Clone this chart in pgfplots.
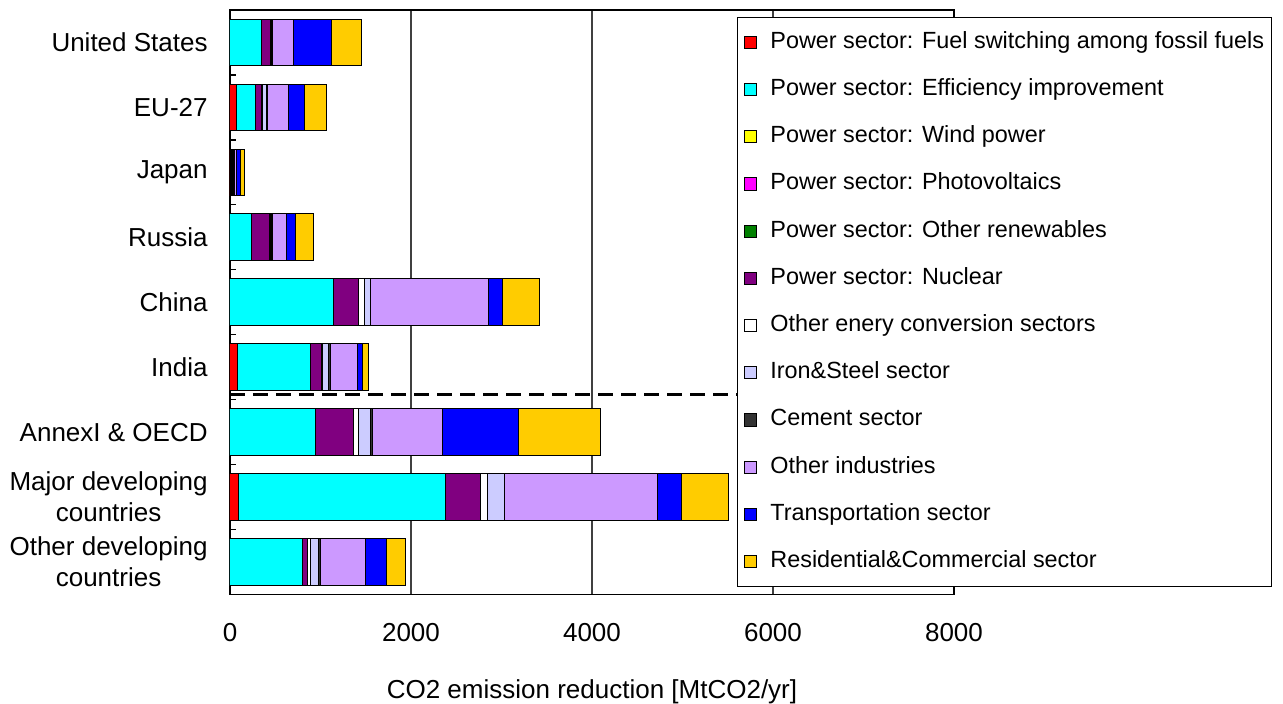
\documentclass[border=0pt]{standalone}
\usepackage{fontspec}
\setmainfont{Liberation Sans}
\usepackage{pgfplots}
\usepackage{pgfplotstable}
\pgfplotsset{compat=1.18}
\definecolor{cFuel}{HTML}{FF0000}
\definecolor{cEff}{HTML}{00FFFF}
\definecolor{cWind}{HTML}{FFFF00}
\definecolor{cPV}{HTML}{FF00FF}
\definecolor{cRen}{HTML}{008000}
\definecolor{cNuc}{HTML}{800080}
\definecolor{cConv}{HTML}{FFFFFF}
\definecolor{cIron}{HTML}{CCCCFF}
\definecolor{cCem}{HTML}{333333}
\definecolor{cOind}{HTML}{CC99FF}
\definecolor{cTrans}{HTML}{0000FF}
\definecolor{cRes}{HTML}{FFCC00}
\newcommand{\catfont}{\fontsize{13bp}{15.5bp}\selectfont}
\newcommand{\legfont}{\fontsize{11.7bp}{14bp}\selectfont}

% rows: US, EU-27, Japan, Russia, China, India, AnnexI&OECD, Major dev., Other dev.
\pgfplotstableread{
y red  cyan wind pv ren nuc conv iron cem oind trans res
0 0    350  0    0  0   95  10   12   5   235  420   324
1 75   210  0    0  0   60  15   48   5   230  180   240
2 5    10   0    0  0   15  5    8    10  22   42    45
3 0    240  0    0  0   195 10   15   10  155  103   192
4 0    1146 0    0  0   269 66   66   5   1306 155   405
5 81   807  0    0  0   125 5    72   25  298  52    66
6 0    945  0    0  0   419 53   130  23  781  842   903
7 91   2290 0    0  0   389 80   183  5   1691 259   518
8 0    800  0    0  0   57  27   95   23  495  229   210
}\data

\begin{document}
\begin{tikzpicture}
\useasboundingbox (-115bp,-54.7bp) rectangle (526.5bp,297.3bp);
\begin{axis}[
  at={(0,0)}, anchor=south west,
  scale only axis, width=362bp, height=292.3bp,
  xbar stacked, bar width=0.72,
  xmin=0, xmax=8000, ymin=-0.5, ymax=8.5, y dir=reverse,
  axis line style={black, line width=0.8bp},
  xtick={0,2000,4000,6000,8000},
  xticklabels={0,2000,4000,6000,8000},
  major x tick style={draw=none},
  xmajorgrids, grid style={draw=black!75, line width=0.6bp},
  xticklabel style={font=\catfont, inner sep=0pt, anchor=north, yshift=-14.1bp},
  ytick={0,...,8},
  yticklabels={United States, EU-27, Japan, Russia, China, India,
    AnnexI \& OECD, Major developing\\countries, Other developing\\countries},
  major y tick style={draw=none},
  minor ytick={0.5,1.5,...,7.5},
  minor tick length=3bp,
  minor y tick style={black, line width=0.6bp},
  ytick pos=left,
  yticklabel style={font=\catfont, align=center, inner sep=0pt, xshift=-11bp},
  xlabel={CO2 emission reduction [MtCO2/yr]},
  xlabel style={font=\catfont, at={(axis description cs:0.5,0)}, anchor=base, yshift=-51.7bp},
  legend cell align=left,
  legend image code/.code={\draw[#1, draw=black, line width=0.5bp] (0bp,-3bp) rectangle (6bp,3bp);},
  legend style={at={(axis description cs:0.700,0.9884)}, anchor=north west,
    draw=black, line width=0.6bp, fill=white,
    inner xsep=3.5bp, inner ysep=7.0bp, row sep=12.6bp, font=\legfont,
    nodes={inner sep=0pt, text height=8.5bp, text depth=2.5bp},
    /tikz/every odd column/.append style={column sep=6.5bp}},
]
\addplot[fill=cFuel,  draw=black, line width=0.5bp] table[x=red,   y=y] {\data};
\addplot[fill=cEff,   draw=black, line width=0.5bp] table[x=cyan,  y=y] {\data};
\addplot[fill=cWind,  draw=black, line width=0.5bp] table[x=wind,  y=y] {\data};
\addplot[fill=cPV,    draw=black, line width=0.5bp] table[x=pv,    y=y] {\data};
\addplot[fill=cRen,   draw=black, line width=0.5bp] table[x=ren,   y=y] {\data};
\addplot[fill=cNuc,   draw=black, line width=0.5bp] table[x=nuc,   y=y] {\data};
\addplot[fill=cConv,  draw=black, line width=0.5bp] table[x=conv,  y=y] {\data};
\addplot[fill=cIron,  draw=black, line width=0.5bp] table[x=iron,  y=y] {\data};
\addplot[fill=cCem,   draw=black, line width=0.5bp] table[x=cem,   y=y] {\data};
\addplot[fill=cOind,  draw=black, line width=0.5bp] table[x=oind,  y=y] {\data};
\addplot[fill=cTrans, draw=black, line width=0.5bp] table[x=trans, y=y] {\data};
\addplot[fill=cRes,   draw=black, line width=0.5bp] table[x=res,   y=y] {\data};
\legend{Power sector: Fuel switching among fossil fuels,
  Power sector: Efficiency improvement,
  Power sector: Wind power,
  Power sector: Photovoltaics,
  Power sector: Other renewables,
  Power sector: Nuclear,
  Other enery conversion sectors,
  Iron\&Steel sector,
  Cement sector,
  Other industries,
  Transportation sector,
  Residential\&Commercial sector}
\draw[black, line width=1.5bp, dash pattern=on 7.5bp off 4bp]
  (axis cs:0,5.42) -- (axis cs:5600,5.42);
\end{axis}
\end{tikzpicture}
\end{document}
